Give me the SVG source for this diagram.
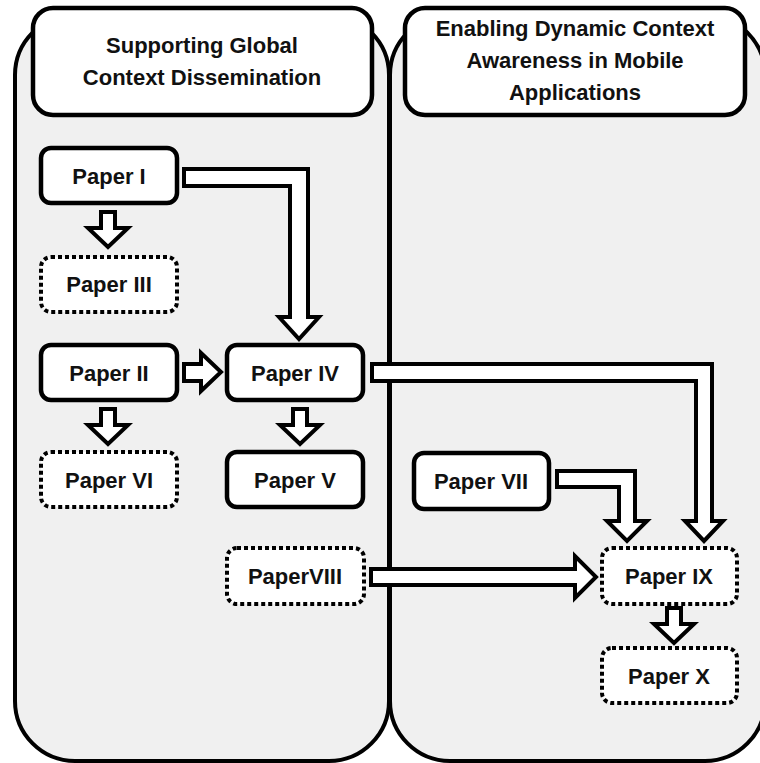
<svg xmlns="http://www.w3.org/2000/svg" width="760" height="763" viewBox="0 0 760 763">
  <style>
    .panel { fill: #f0f0f0; stroke: #000; stroke-width: 4; }
    .head { fill: #fff; stroke: #000; stroke-width: 4.5; }
    .box { fill: #fff; stroke: #000; stroke-width: 4.5; }
    .dot { fill: #fff; stroke: #000; stroke-width: 4; stroke-dasharray: 4 3; }
    .arr { fill: #fff; stroke: #000; stroke-width: 4; stroke-linejoin: miter; }
    text { font-family: "Liberation Sans", Arial, sans-serif; font-weight: bold; font-size: 22px; fill: #111; text-anchor: middle; }
  </style>
  <rect x="0" y="0" width="760" height="763" fill="#fff"/>

  <!-- swimlanes -->
  <g id="lane-left">
    <rect class="panel" x="15" y="15" width="374" height="746" rx="60" ry="60"/>
    <rect class="head" x="33" y="8" width="339" height="107" rx="20" ry="20"/>
    <text x="202" y="53">Supporting Global</text>
    <text x="202" y="85">Context Dissemination</text>
  </g>
  <g id="lane-right">
    <rect class="panel" x="390" y="15" width="375" height="746" rx="60" ry="60"/>
    <rect class="head" x="405" y="8" width="340" height="107" rx="20" ry="20"/>
    <text x="575" y="36">Enabling Dynamic Context</text>
    <text x="575" y="68">Awareness in Mobile</text>
    <text x="575" y="100">Applications</text>
  </g>

  <!-- block-arrow connectors -->
  <g id="connectors">
    <!-- I -> III -->
    <polygon class="arr" points="101,212 115,212 115,228 128,228 108,247 88,228 101,228"/>
    <!-- II -> VI -->
    <polygon class="arr" points="101,409 115,409 115,425 128,425 108,444 88,425 101,425"/>
    <!-- IV -> V -->
    <polygon class="arr" points="293,409 307,409 307,425 320,425 300,444 280,425 293,425"/>
    <!-- IX -> X -->
    <polygon class="arr" points="667,608 681,608 681,624 694,624 674,643 654,624 667,624"/>
    <!-- II -> IV -->
    <polygon class="arr" points="184,364 201,364 201,353 221,372 201,391 201,381 184,381"/>
    <!-- I -> IV -->
    <polygon class="arr" points="184,169 308,169 308,317 319,317 299,339 279,317 290,317 290,186 184,186"/>
    <!-- IV -> IX -->
    <polygon class="arr" points="372,364 712,364 712,521 723,521 704,541 685,521 696,521 696,381 372,381"/>
    <!-- VII -> IX -->
    <polygon class="arr" points="557,471 635,471 635,521 647,521 627,541 607,521 619,521 619,487 557,487"/>
    <!-- VIII -> IX -->
    <polygon class="arr" points="371,569 575,569 575,556 596,577 575,598 575,585 371,585"/>
  </g>

  <!-- papers -->
  <g id="paper-1"><rect class="box" x="41" y="148" width="136" height="55" rx="10"/><text x="109" y="184">Paper I</text></g>
  <g id="paper-3"><rect class="dot" x="41" y="257" width="136" height="55" rx="10"/><text x="109" y="292">Paper III</text></g>
  <g id="paper-2"><rect class="box" x="41" y="345" width="136" height="55" rx="10"/><text x="109" y="381">Paper II</text></g>
  <g id="paper-4"><rect class="box" x="227" y="345" width="136" height="55" rx="10"/><text x="295" y="381">Paper IV</text></g>
  <g id="paper-6"><rect class="dot" x="41" y="452" width="136" height="55" rx="10"/><text x="109" y="488">Paper VI</text></g>
  <g id="paper-5"><rect class="box" x="227" y="452" width="136" height="55" rx="10"/><text x="295" y="488">Paper V</text></g>
  <g id="paper-7"><rect class="box" x="414" y="453" width="135" height="56" rx="10"/><text x="481" y="489">Paper VII</text></g>
  <g id="paper-8"><rect class="dot" x="227" y="548" width="137" height="56" rx="10"/><text x="295" y="584">PaperVIII</text></g>
  <g id="paper-9"><rect class="dot" x="602" y="548" width="135" height="56" rx="10"/><text x="669" y="584">Paper IX</text></g>
  <g id="paper-10"><rect class="dot" x="602" y="648" width="135" height="55" rx="10"/><text x="669" y="684">Paper X</text></g>
</svg>
